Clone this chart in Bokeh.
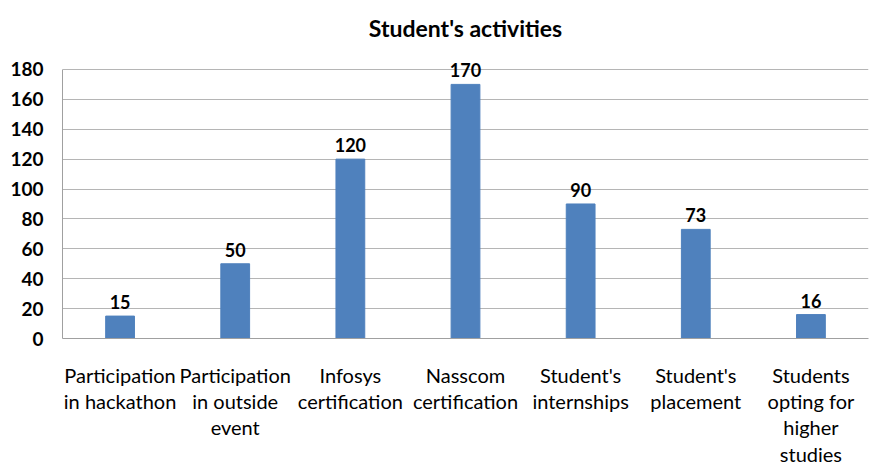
from bokeh.plotting import figure
from bokeh.models import ColumnDataSource, FixedTicker, Range1d, LabelSet
from bokeh.core.properties import value
from bokeh.embed import file_html
from bokeh.resources import INLINE

categories = [
    "Participation\nin hackathon",
    "Participation\nin outside\nevent",
    "Infosys\ncertification",
    "Nasscom\ncertification",
    "Student's\ninternships",
    "Student's\nplacement",
    "Students\nopting for\nhigher\nstudies",
]
counts = [15, 50, 120, 170, 90, 73, 16]
labels = [str(v) for v in counts]
y_ticks = [0, 20, 40, 60, 80, 100, 120, 140, 160, 180]

FONT = "Lato"

src = ColumnDataSource(dict(cat=categories, val=counts, lab=labels))

p = figure(
    x_range=categories,
    y_range=Range1d(0, 188),
    width=870,
    height=468,
    output_backend="svg",
    toolbar_location=None,
    title="Student's activities",
    min_border_left=62,
    min_border_right=2,
    min_border_top=55,
    min_border_bottom=130,
)

p.title.align = "center"
p.title.vertical_align = "top"
p.title.text_font = FONT
p.title.text_font_size = "23px"
p.title.text_font_style = "bold"
p.title.text_color = "#000000"
p.title.standoff = 27

p.vbar(x="cat", top="val", width=0.25, source=src, color="#4f81bd")

p.add_layout(LabelSet(
    x="cat", y="val", text="lab", source=src,
    text_align="center", text_baseline="bottom", y_offset=7,
    text_font=value(FONT), text_font_size="18px", text_font_style="bold",
    text_color="#000000",
))

p.outline_line_color = None
p.xgrid.grid_line_color = None
p.ygrid.grid_line_color = "#b5b5b5"
p.ygrid.grid_line_width = 1

p.yaxis.ticker = FixedTicker(ticks=y_ticks)
p.yaxis.bounds = (0, 180)
p.yaxis.axis_line_color = "#a0a0a0"
p.yaxis.major_tick_line_color = None
p.yaxis.minor_tick_line_color = None
p.yaxis.major_label_text_font = FONT
p.yaxis.major_label_text_font_size = "19px"
p.yaxis.major_label_text_font_style = "bold"
p.yaxis.major_label_text_color = "#000000"
p.yaxis.major_label_standoff = 13

p.xaxis.axis_line_color = "#a0a0a0"
p.xaxis.major_tick_line_color = None
p.xaxis.minor_tick_line_color = None
p.xaxis.major_label_text_font = FONT
p.xaxis.major_label_text_font_size = "20px"
p.xaxis.major_label_text_line_height = 1.1
p.xaxis.major_label_text_color = "#000000"
p.xaxis.major_label_standoff = 18

open("out.html", "w").write(file_html(p, INLINE))
